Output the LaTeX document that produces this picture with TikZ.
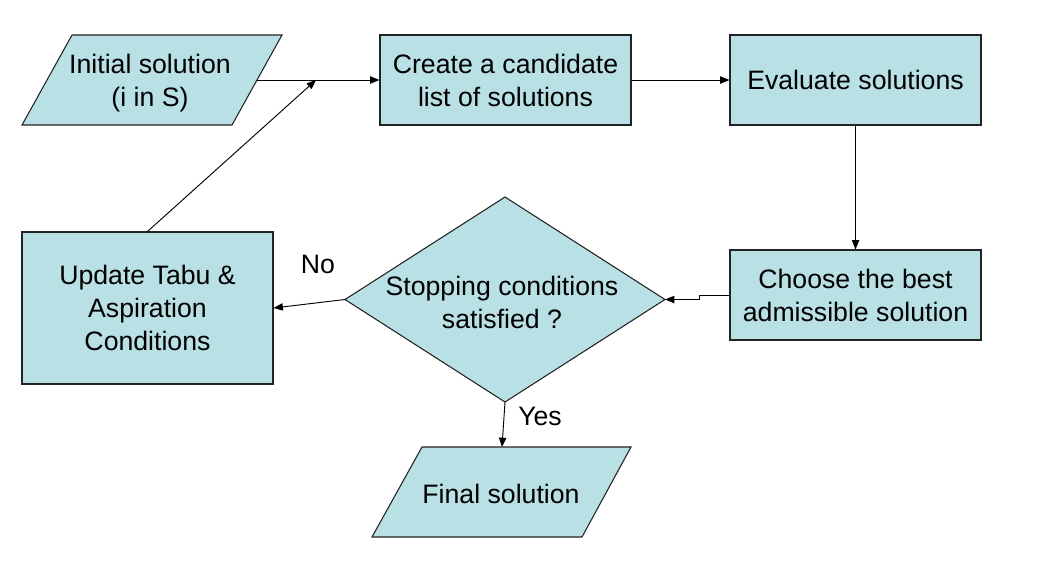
\documentclass[tikz,border=0pt]{standalone}
\usepackage{fontspec}
\setmainfont{Liberation Sans}
\usetikzlibrary{arrows.meta}
\definecolor{boxfill}{RGB}{185,224,228}
\definecolor{edgecol}{RGB}{35,35,35}
\begin{document}
\begin{tikzpicture}[x=0.75pt,y=-0.75pt,
  txt/.style={font=\fontsize{20}{24.75}\selectfont, align=center, inner sep=0pt, text=black},
  rectbox/.style={txt, draw=edgecol, fill=boxfill, line width=0.8pt, minimum width=188.25pt, minimum height=67.5pt},
  shapefill/.style={draw=edgecol, fill=boxfill, line width=0.8pt},
  arr/.style={-{Triangle[length=7pt,width=5.5pt]}, line width=0.7pt, draw=black},
  lbl/.style={font=\fontsize{20}{24}\selectfont, inner sep=0pt}]
\useasboundingbox (0,0) rectangle (1039,569);

% parallelograms
\draw[shapefill] (72,35) -- (282,35) -- (232,125) -- (22,125) -- cycle;
\node[txt] (init) at (150,83) {Initial solution\\(i in S)};
\coordinate (initout) at (257,80);
\coordinate (join) at (316,80);

\draw[shapefill] (422,447) -- (631,447) -- (582,537) -- (372,537) -- cycle;
\node[txt] (final) at (501,494) {Final solution};
\coordinate (finalin) at (502,447);

% diamond
\coordinate (stopW) at (345,299.5);
\coordinate (stopN) at (505,197);
\coordinate (stopE) at (665,299.5);
\coordinate (stopS) at (505,402);
\draw[shapefill] (stopW) -- (stopN) -- (stopE) -- (stopS) -- cycle;
\node[txt] (stop) at (502,302) {Stopping conditions\\satisfied ?};

% rectangles
\node[rectbox] (cand) at (505.5,80) {Create a candidate\\list of solutions};
\node[rectbox] (eval) at (855.5,80) {Evaluate solutions};
\node[rectbox] (choose) at (855.5,295) {Choose the best\\admissible solution};
\node[rectbox, minimum height=114pt] (update) at (147.5,308) {\raisebox{0pt}[\height][\depth]{}Update Tabu \&\\Aspiration\\Conditions};

% connectors
\draw[arr] (initout) -- (cand.west);
\draw[arr] (update.north) -- (join);
\draw[arr] (cand.east) -- (eval.west);
\draw[arr] (eval.south) -- (choose.north);
\coordinate (elbow1) at (699,295);
\coordinate (elbow2) at (699,299.5);
\draw[arr] (choose.west) -- (elbow1) -- (elbow2) -- (stopE);
\draw[arr] (stopW) -- (update.east);
\draw[arr] (stopS) -- (finalin);

% labels
\node[lbl] (no) at (318,264) {No};
\node[lbl] (yes) at (540,416) {Yes};
\end{tikzpicture}
\end{document}
